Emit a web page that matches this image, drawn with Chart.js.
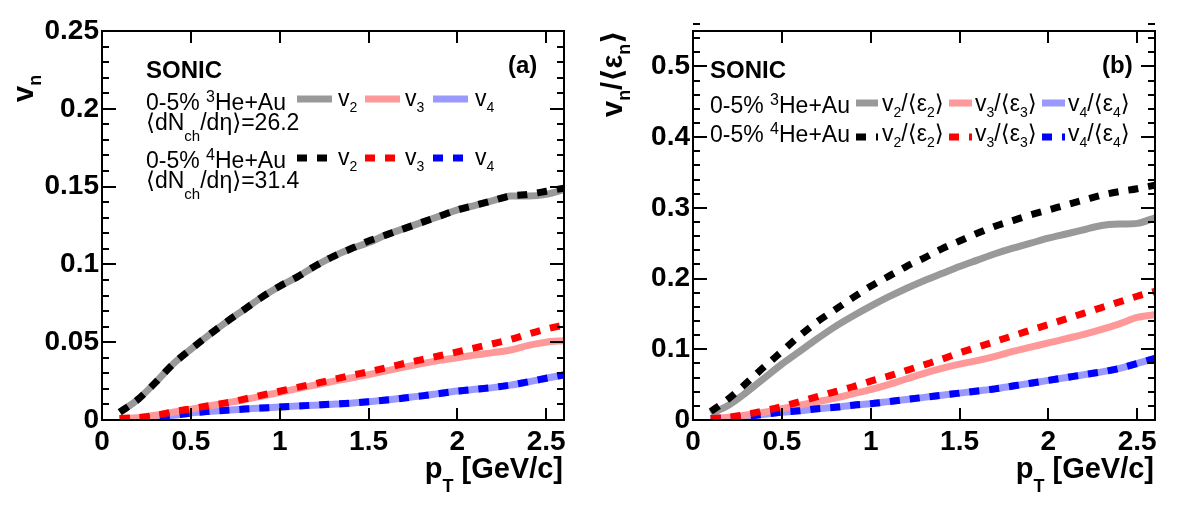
<!DOCTYPE html>
<html>
<head>
<meta charset="utf-8">
<script src="https://cdn.jsdelivr.net/npm/chart.js@4.4.1/dist/chart.umd.min.js"></script>
<style>
  html, body { margin: 0; padding: 0; background: #fff; }
  #wrap { position: relative; width: 1182px; height: 505px; }
  .panel { position: absolute; top: 0; width: 591px; height: 505px; }
</style>
</head>
<body>
<div id="wrap">
  <div class="panel" style="left:0"><canvas id="chartA" width="591" height="505"></canvas></div>
  <div class="panel" style="left:591px"><canvas id="chartB" width="591" height="505"></canvas></div>
</div>
<script>
const FONT = "'Liberation Sans', 'DejaVu Sans', Arial, sans-serif";

// pT grid [GeV/c]
const pT = [0.1, 0.2, 0.3, 0.4, 0.5, 0.6, 0.7, 0.8, 0.9, 1.0, 1.1, 1.2, 1.3,
            1.4, 1.5, 1.6, 1.7, 1.8, 1.9, 2.0, 2.1, 2.2, 2.3, 2.4, 2.5, 2.6];

// panel (a): vn
const v2He3 = [0.005, 0.013, 0.024, 0.036, 0.0455, 0.0545, 0.063, 0.071, 0.079, 0.086, 0.092, 0.099, 0.105,
               0.110, 0.114, 0.119, 0.123, 0.127, 0.131, 0.135, 0.138, 0.141, 0.144, 0.144, 0.145, 0.148];
const v3He3 = [0.001, 0.0015, 0.003, 0.005, 0.007, 0.009, 0.011, 0.013, 0.0153, 0.0178, 0.0202, 0.0225, 0.0248,
               0.027, 0.0292, 0.0316, 0.034, 0.0362, 0.0383, 0.040, 0.0418, 0.0433, 0.045, 0.048, 0.050, 0.051];
const v4He3 = [0.0008, 0.0012, 0.0018, 0.003, 0.0045, 0.0055, 0.0063, 0.007, 0.0077, 0.0084, 0.009, 0.0095, 0.0101,
               0.0108, 0.0118, 0.0128, 0.0142, 0.0155, 0.0171, 0.0186, 0.0197, 0.0208, 0.0224, 0.0245, 0.0268, 0.029];
const v2He4 = [0.005, 0.013, 0.024, 0.036, 0.0455, 0.0545, 0.063, 0.071, 0.079, 0.086, 0.092, 0.099, 0.105,
               0.110, 0.115, 0.119, 0.123, 0.127, 0.131, 0.135, 0.138, 0.141, 0.144, 0.145, 0.147, 0.149];
const v3He4 = [0.001, 0.0015, 0.003, 0.0052, 0.0072, 0.0092, 0.011, 0.0134, 0.016, 0.0185, 0.021, 0.0234, 0.026,
               0.0286, 0.031, 0.0336, 0.0363, 0.0388, 0.0413, 0.0438, 0.0464, 0.049, 0.0518, 0.0553, 0.0585, 0.061];
const v4He4 = [0.0008, 0.0012, 0.0018, 0.003, 0.0045, 0.0055, 0.0063, 0.007, 0.0077, 0.0084, 0.009, 0.0096, 0.0102,
               0.0109, 0.0118, 0.0128, 0.0141, 0.0155, 0.0170, 0.0185, 0.0197, 0.0209, 0.0225, 0.0246, 0.0268, 0.029];

// panel (b): vn/<eps_n>
const r2He3 = [0.009, 0.021, 0.039, 0.059, 0.079, 0.097, 0.115, 0.132, 0.147, 0.161, 0.174, 0.186, 0.197,
               0.207, 0.217, 0.226, 0.235, 0.243, 0.250, 0.257, 0.263, 0.269, 0.275, 0.277, 0.278, 0.286];
const r3He3 = [0.002, 0.004, 0.007, 0.011, 0.016, 0.021, 0.026, 0.031, 0.037, 0.043, 0.050, 0.058, 0.066,
               0.073, 0.079, 0.084, 0.090, 0.097, 0.103, 0.109, 0.115, 0.121, 0.128, 0.136, 0.145, 0.149];
const r4He3 = [0.002, 0.003, 0.005, 0.008, 0.011, 0.013, 0.016, 0.018, 0.021, 0.023, 0.026, 0.029, 0.032,
               0.035, 0.038, 0.041, 0.044, 0.048, 0.052, 0.056, 0.060, 0.064, 0.068, 0.073, 0.080, 0.087];
const r2He4 = [0.012, 0.030, 0.052, 0.075, 0.097, 0.119, 0.139, 0.156, 0.173, 0.189, 0.203, 0.217, 0.229,
               0.242, 0.253, 0.264, 0.274, 0.282, 0.290, 0.297, 0.304, 0.311, 0.318, 0.323, 0.327, 0.332];
const r3He4 = [0.002, 0.004, 0.008, 0.013, 0.019, 0.026, 0.033, 0.040, 0.047, 0.055, 0.062, 0.070, 0.078,
               0.086, 0.095, 0.103, 0.111, 0.119, 0.127, 0.135, 0.143, 0.151, 0.159, 0.167, 0.175, 0.182];
const r4He4 = [0.002, 0.003, 0.005, 0.008, 0.011, 0.013, 0.016, 0.018, 0.021, 0.023, 0.026, 0.029, 0.032,
               0.035, 0.038, 0.041, 0.044, 0.048, 0.052, 0.056, 0.060, 0.064, 0.068, 0.073, 0.080, 0.087];

const xTicks = [0, 0.5, 1, 1.5, 2, 2.5];

const COLORS = {
  grey: "#999999", pink: "#ff9999", lblue: "#9999ff",
  black: "#000000", red: "#ff0000", blue: "#0000ff"
};
const DASH = [10, 10];

function series(values, color, dashed) {
  return {
    data: pT.map((x, i) => ({ x: x, y: values[i] })),
    borderColor: color,
    borderWidth: 7,
    borderDash: dashed ? DASH : [],
    order: dashed ? 0 : 1,
    fill: false,
  };
}

// draw a row of text pieces: [text, size, bold, dy]
function rich(ctx, x, y, parts, align) {
  let total = 0;
  const widths = parts.map((p) => {
    ctx.font = (p[2] ? "bold " : "") + p[1] + "px " + FONT;
    const w = ctx.measureText(p[0]).width;
    total += w;
    return w;
  });
  if (align === "right") x -= total;
  parts.forEach((p, i) => {
    ctx.font = (p[2] ? "bold " : "") + p[1] + "px " + FONT;
    ctx.fillText(p[0], x, y + (p[3] || 0));
    x += widths[i];
  });
  return total;
}

const rootDeco = {
  id: "rootDeco",
  afterDatasetsDraw(chart, args, opts) {
    const ctx = chart.ctx;
    const a = chart.chartArea;
    const xs = chart.scales.x;
    const ys = chart.scales.y;
    ctx.save();
    ctx.strokeStyle = "#000";
    ctx.fillStyle = "#000";
    ctx.lineWidth = 2;
    ctx.setLineDash([]);
    ctx.strokeRect(a.left, a.top, a.right - a.left, a.bottom - a.top);

    ctx.beginPath();
    // y ticks, major + minor, both sides
    const nMinor = Math.round(ys.max / opts.minorStep);
    for (let k = 0; k <= nMinor; k++) {
      const v = k * opts.minorStep;
      const major = Math.abs(v / opts.majorStep - Math.round(v / opts.majorStep)) < 1e-6;
      const len = major ? 14 : 7;
      const y = Math.round(ys.getPixelForValue(v));
      ctx.moveTo(a.left, y); ctx.lineTo(a.left + len, y);
      ctx.moveTo(a.right, y); ctx.lineTo(a.right - len, y);
    }
    // x ticks, major only
    xTicks.forEach((v) => {
      const x = Math.round(xs.getPixelForValue(v));
      ctx.moveTo(x, a.bottom); ctx.lineTo(x, a.bottom - 12);
      ctx.moveTo(x, a.top); ctx.lineTo(x, a.top + 12);
    });
    ctx.stroke();

    // axis titles
    ctx.textBaseline = "alphabetic";
    rich(ctx, a.right - 1, 478, [["p", 29, true], ["T", 18, true, 14], [" [GeV/c]", 29, true]], "right");
    ctx.save();
    ctx.translate(opts.yTitleX, opts.yTitleY);
    ctx.rotate(-Math.PI / 2);
    rich(ctx, 0, 0, opts.yTitle);
    ctx.restore();

    // legend text
    ctx.font = "bold 24px " + FONT;
    ctx.fillText("SONIC", opts.sonic[0], opts.sonic[1]);
    ctx.fillText(opts.tag, opts.tagPos[0], opts.tagPos[1]);
    opts.rows.forEach((r) => rich(ctx, r.x, r.y, r.parts));

    // legend samples
    opts.entries.forEach((e) => {
      const ds = chart.data.datasets[e.ds];
      ctx.beginPath();
      ctx.strokeStyle = ds.borderColor;
      ctx.lineWidth = 7;
      ctx.setLineDash(ds.borderDash || []);
      ctx.moveTo(e.x0, e.y); ctx.lineTo(e.x1, e.y);
      ctx.stroke();
      ctx.setLineDash([]);
      ctx.fillStyle = "#000";
      rich(ctx, e.tx, e.ty, e.label);
    });
    ctx.restore();
  },
};

function fmt(v) { return String(+v.toFixed(2)); }

function makeChart(id, datasets, yMax, yStep, deco) {
  const tickFont = { family: FONT, size: 28, weight: "bold" };
  return new Chart(document.getElementById(id), {
    type: "line",
    data: { datasets: datasets },
    options: {
      responsive: false,
      animation: false,
      devicePixelRatio: 1,
      layout: { padding: { top: 31, right: 27, left: 0, bottom: 0 } },
      elements: {
        point: { radius: 0 },
        line: { cubicInterpolationMode: "monotone", borderCapStyle: "butt", borderJoinStyle: "round" },
      },
      plugins: { legend: { display: false }, tooltip: { enabled: false }, rootDeco: deco },
      scales: {
        x: {
          type: "linear", min: 0, max: 2.6,
          grid: { display: false, drawTicks: false }, border: { display: false },
          ticks: { stepSize: 0.5, includeBounds: false, padding: 5, color: "#000",
                   font: tickFont, callback: fmt, maxRotation: 0, autoSkip: false },
          afterFit: (s) => { s.height = 85; },
        },
        y: {
          type: "linear", min: 0, max: yMax,
          grid: { display: false, drawTicks: false }, border: { display: false },
          ticks: { stepSize: yStep, includeBounds: false, padding: 3, color: "#000",
                   font: tickFont, callback: fmt, autoSkip: false },
          afterFit: (s) => { s.width = 102; },
        },
      },
    },
    plugins: [rootDeco],
  });
}

const vLab = (n, dy) => [["v", 23], [String(n), 14, false, dy]];
const rLab = (n) => [["v", 23], [String(n), 14, false, 6], ["/\u27E8\u03B5", 23], [String(n), 14, false, 6], ["\u27E9", 23]];

makeChart("chartA", [
  series(v2He3, COLORS.grey, false),
  series(v3He3, COLORS.pink, false),
  series(v4He3, COLORS.lblue, false),
  series(v2He4, COLORS.black, true),
  series(v3He4, COLORS.red, true),
  series(v4He4, COLORS.blue, true),
], 0.25, 0.05, {
  minorStep: 0.01, majorStep: 0.05,
  yTitleX: 33, yTitleY: 102,
  yTitle: [["v", 29, true], ["n", 18, true, 8]],
  sonic: [146, 78], tag: "(a)", tagPos: [508, 73],
  rows: [
    { x: 146, y: 110, parts: [["0-5% ", 23], ["3", 16, false, -8], ["He+Au", 23]] },
    { x: 146, y: 130, parts: [["\u27E8dN", 23], ["ch", 15, false, 11], ["/d\u03B7\u27E9=26.2", 23]] },
    { x: 146, y: 168, parts: [["0-5% ", 23], ["4", 16, false, -8], ["He+Au", 23]] },
    { x: 146, y: 188, parts: [["\u27E8dN", 23], ["ch", 15, false, 11], ["/d\u03B7\u27E9=31.4", 23]] },
  ],
  entries: [
    { ds: 0, x0: 297, x1: 332, y: 99, tx: 338, ty: 106, label: vLab(2, 6) },
    { ds: 1, x0: 365, x1: 400, y: 99, tx: 405, ty: 106, label: vLab(3, 6) },
    { ds: 2, x0: 433, x1: 468, y: 99, tx: 475, ty: 106, label: vLab(4, 6) },
    { ds: 3, x0: 297, x1: 332, y: 158, tx: 338, ty: 165, label: vLab(2, 6) },
    { ds: 4, x0: 365, x1: 400, y: 158, tx: 405, ty: 165, label: vLab(3, 6) },
    { ds: 5, x0: 433, x1: 468, y: 158, tx: 475, ty: 165, label: vLab(4, 6) },
  ],
});

makeChart("chartB", [
  series(r2He3, COLORS.grey, false),
  series(r3He3, COLORS.pink, false),
  series(r4He3, COLORS.lblue, false),
  series(r2He4, COLORS.black, true),
  series(r3He4, COLORS.red, true),
  series(r4He4, COLORS.blue, true),
], 0.55, 0.1, {
  minorStep: 0.02, majorStep: 0.1,
  yTitleX: 31, yTitleY: 117,
  yTitle: [["v", 29, true], ["n", 18, true, 8], ["/\u27E8\u03B5", 29, true], ["n", 18, true, 8], ["\u27E9", 29, true]],
  sonic: [119, 78], tag: "(b)", tagPos: [511, 73],
  rows: [
    { x: 119, y: 113, parts: [["0-5% ", 23], ["3", 16, false, -8], ["He+Au", 23]] },
    { x: 119, y: 142, parts: [["0-5% ", 23], ["4", 16, false, -8], ["He+Au", 23]] },
  ],
  entries: [
    { ds: 0, x0: 265, x1: 287, y: 103, tx: 291, ty: 111, label: rLab(2) },
    { ds: 1, x0: 358, x1: 381, y: 103, tx: 384, ty: 111, label: rLab(3) },
    { ds: 2, x0: 451, x1: 474, y: 103, tx: 477, ty: 111, label: rLab(4) },
    { ds: 3, x0: 265, x1: 287, y: 137, tx: 291, ty: 141, label: rLab(2) },
    { ds: 4, x0: 358, x1: 381, y: 137, tx: 384, ty: 141, label: rLab(3) },
    { ds: 5, x0: 451, x1: 474, y: 137, tx: 477, ty: 141, label: rLab(4) },
  ],
});
</script>
</body>
</html>
